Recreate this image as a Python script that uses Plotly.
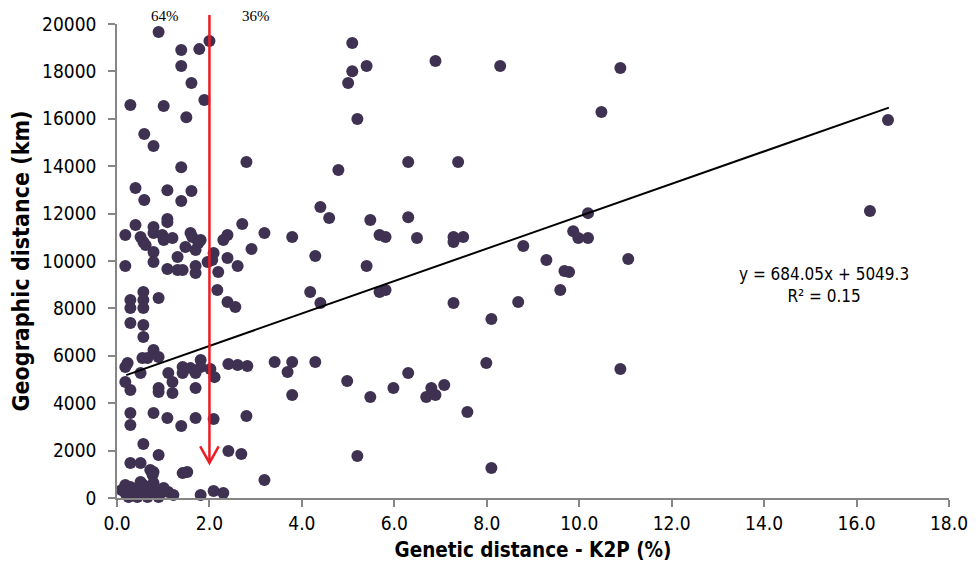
import plotly.graph_objects as go

# Genetic distance K2P (%) vs geographic distance (km)
genetic_distance = [
    0.90, 1.39, 1.78, 2.00, 1.39, 1.61, 1.89, 0.29, 1.01, 1.50,
    0.59, 0.79, 1.39, 2.80, 0.40, 1.09, 1.61, 0.59, 1.39, 1.09,
    5.09, 5.09, 5.40, 5.00, 5.20, 6.89, 8.29, 10.89, 10.48, 4.79,
    6.30, 7.38, 4.40, 4.59, 5.48, 6.30, 10.19, 16.68, 16.29,
    0.40, 0.79, 1.09, 2.71, 0.18, 0.51, 0.57, 0.62, 0.79, 0.98,
    1.01, 1.20, 1.59, 1.63, 1.81, 1.76, 1.48, 1.70, 0.79, 0.79,
    1.31, 2.09, 2.06, 1.96, 2.39, 2.30, 2.39, 2.61, 2.19, 0.18,
    1.09, 1.31, 1.42, 1.70, 1.70, 3.19, 3.79, 2.91, 5.68, 5.81,
    6.49, 7.28, 7.28, 7.49, 8.79, 9.87, 9.98, 10.19, 4.29, 5.40,
    9.29, 9.68, 9.78, 11.06,
    0.57, 0.57, 0.57, 0.90, 0.29, 0.29, 0.29, 0.57, 0.57, 2.17,
    2.39, 2.56, 9.59, 4.18, 4.40, 5.68, 5.81, 7.28, 8.68, 8.10,
    0.79, 0.55, 0.66, 0.90, 0.23, 0.18, 0.51, 0.18, 0.29, 0.90,
    0.90, 1.20, 1.11, 1.20, 1.42, 1.42, 1.59, 1.81, 1.81, 1.70,
    1.70, 2.02, 2.11, 2.41, 2.61, 2.82, 3.41, 3.79, 3.69, 3.79,
    4.29, 4.98, 5.48, 5.98, 6.30, 6.80, 6.69, 6.89, 7.08, 7.99,
    7.58, 10.89,
    0.29, 0.29, 0.79, 1.09, 1.39, 1.70, 2.09, 2.80, 0.57, 0.90,
    2.41, 2.69, 5.20,
    0.29, 0.51, 0.72, 0.79, 0.77, 1.42, 1.52, 3.19, 8.10,
    0.18, 0.29, 0.51, 0.57, 0.79, 0.77, 0.18, 0.36, 0.57, 0.79,
    0.98, 1.11, 1.22, 1.81, 2.09, 2.30, 0.10, 0.44, 0.66, 0.90,
    0.25, 1.01, 0.40, 0.66,
]
geographic_distance = [
    19660, 18900, 18940, 19280, 18230, 17510, 16790, 16580, 16540, 16070,
    15360, 14850, 13960, 14180, 13080, 12990, 12950, 12570, 12530, 11770,
    19200, 18010, 18230, 17510, 15990, 18440, 18230, 18140, 16290, 13840,
    14180, 14180, 12280, 11810, 11730, 11850, 12020, 15950, 12110,
    11520, 11430, 11640, 11560, 11100, 11010, 10800, 10670, 11180, 11100,
    10890, 10970, 11180, 11010, 10890, 10760, 10590, 10460, 10380, 9960,
    10170, 10340, 10040, 9960, 11100, 10890, 10130, 9790, 9540, 9790,
    9660, 9620, 9620, 9790, 9490, 11180, 11010, 10510, 11100, 11010,
    10970, 11010, 10800, 11010, 10630, 11260, 10970, 10970, 10210, 9790,
    10040, 9580, 9540, 10080,
    8690, 8350, 8020, 8440, 8350, 8020, 7380, 7300, 6790, 8780,
    8270, 8060, 8780, 8690, 8230, 8690, 8780, 8230, 8270, 7550,
    6240, 5910, 5910, 5950, 5700, 5530, 5270, 4890, 4560, 4640,
    4470, 4430, 5270, 4890, 5530, 5270, 5480, 5820, 5530, 5270,
    4640, 5440, 5100, 5650, 5610, 5570, 5740, 5740, 5320, 4350,
    5740, 4940, 4260, 4640, 5270, 4640, 4260, 4350, 4770, 5700,
    3630, 5440,
    3590, 3080, 3590, 3380, 3040, 3380, 3330, 3460, 2280, 1810,
    1980, 1860, 1770,
    1480, 1480, 1180, 1100, 970, 1050, 1100, 760, 1270,
    550, 460, 680, 550, 630, 420, 210, 210, 210, 210,
    250, 250, 130, 130, 300, 210, 340, 40, 40, 40,
    40, 420, 340, 380,
]

# Linear trend shown on the chart
TREND_SLOPE = 684.05
TREND_INTERCEPT = 5049.3
TREND_X = [0.2, 16.7]
trend_y = [TREND_SLOPE * x + TREND_INTERCEPT for x in TREND_X]

# Threshold arrow and split labels
THRESHOLD_X = 2.0
ARROW_TIP_Y = 1480
SPLIT_LABELS = ["64%", "36%"]
SPLIT_LABEL_X = [1.03, 3.0]

# Equation label placement (data units)
EQ_X = 15.3
EQ_Y = 8990

x_ticks = [0, 2, 4, 6, 8, 10, 12, 14, 16, 18]
y_ticks = list(range(0, 20001, 2000))

MARKER_COLOR = "#3f3151"
AXIS_COLOR = "#868686"
RED = "#ed1c24"
SANS = "DejaVu Sans Condensed, DejaVu Sans, sans-serif"

fig = go.Figure()
fig.add_trace(go.Scatter(
    x=genetic_distance, y=geographic_distance, mode="markers",
    marker=dict(color=MARKER_COLOR, size=12, line=dict(width=0)),
    showlegend=False, cliponaxis=False,
))
fig.add_trace(go.Scatter(
    x=TREND_X, y=trend_y, mode="lines",
    line=dict(color="black", width=2), showlegend=False,
))

# red arrow: shaft (extends above the plot) and open V head
fig.add_shape(type="line", xref="x", yref="paper",
              x0=THRESHOLD_X, x1=THRESHOLD_X,
              y0=ARROW_TIP_Y / 20000, y1=1.019,
              line=dict(color=RED, width=2.5), layer="above")
fig.add_shape(type="path", xref="x", yref="y",
              path=f"M {THRESHOLD_X-0.2} {ARROW_TIP_Y+700} L {THRESHOLD_X} {ARROW_TIP_Y} L {THRESHOLD_X+0.2} {ARROW_TIP_Y+700}",
              line=dict(color=RED, width=2.5), layer="above")

for lab, lx in zip(SPLIT_LABELS, SPLIT_LABEL_X):
    fig.add_annotation(x=lx, y=1.0165, xref="x", yref="paper", text=lab,
                       showarrow=False, yanchor="middle", borderpad=0,
                       font=dict(family="Liberation Serif, serif", size=15, color="black"))

fig.add_annotation(x=EQ_X, y=EQ_Y, xref="x", yref="y",
                   text="y = 684.05x + 5049.3<br>R² = 0.15", showarrow=False,
                   xanchor="center", yanchor="middle", align="center",
                   font=dict(family=SANS, size=17, color="black"))

# page body adds an 8px margin around the figure
fig.update_layout(
    width=963, height=557,
    margin=dict(l=109, r=22, t=16, b=67),
    plot_bgcolor="white", paper_bgcolor="white",
    font=dict(family=SANS, size=18, color="black"),
    xaxis=dict(
        range=[0, 18], tickvals=x_ticks, tickformat=".1f", automargin=False,
        showgrid=False, zeroline=False, showline=True, linecolor=AXIS_COLOR, linewidth=1.5,
        ticks="outside", ticklen=7, tickcolor=AXIS_COLOR, tickwidth=1.5,
        tickfont=dict(family=SANS, size=19),
        title=dict(text="<b>Genetic distance - K2P (%)</b>", standoff=10,
                   font=dict(family=SANS, size=20.5)),
    ),
    yaxis=dict(
        range=[0, 20000], tickvals=y_ticks, tickformat="d", automargin=False,
        showgrid=False, zeroline=False, showline=True, linecolor=AXIS_COLOR, linewidth=1.5,
        ticks="outside", ticklen=7, tickcolor=AXIS_COLOR, tickwidth=1.5,
        tickfont=dict(family=SANS, size=19), ticklabelstandoff=8,
        title=dict(text="<b>Geographic distance (km)</b>", standoff=12,
                   font=dict(family=SANS, size=23)),
    ),
)

fig.write_html("out.html")
